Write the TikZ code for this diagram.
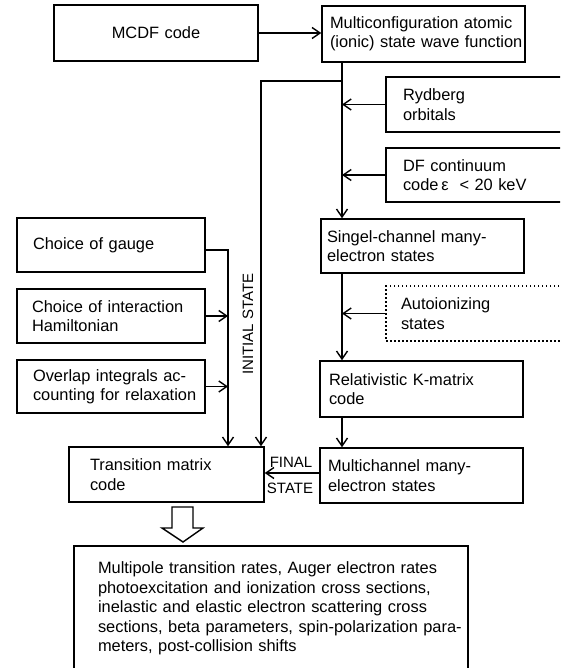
\documentclass[tikz,border=0pt]{standalone}
\usepackage{fontspec}
\setmainfont{Liberation Sans}
\usetikzlibrary{arrows.meta}
\begin{document}
\begin{tikzpicture}[x=1pt,y=-1pt,
  every node/.style={font=\fontsize{16.4}{19.4}\selectfont},
  box/.style={draw, line width=1.5pt, inner sep=0pt, align=left},
  lbl/.style={font=\fontsize{15}{17}\selectfont, inner sep=0pt},
  conn/.style={line width=1.4pt},
  arr/.style={conn, -{Straight Barb[length=8pt,width=11pt]}},
]
\useasboundingbox (0,0) rectangle (560,668);
\clip (0,0) rectangle (560,668);

% boxes
\node[box, align=center, minimum width=204pt, minimum height=56pt, text width=180pt] (mcdf) at (156,33) {MCDF code};
\node[box, minimum width=203pt, minimum height=56pt, text width=187pt] (multi) at (423.5,34)
  {\mbox{Multiconfiguration atomic}\\\mbox{(ionic) state wave function}};
\node[box, minimum width=189pt, minimum height=55pt, text width=155pt] (ryd) at (480.5,104.5)
  {\mbox{Rydberg}\\\mbox{orbitals}};
\node[box, minimum width=189pt, minimum height=54pt, text width=155pt] (df) at (480.5,175)
  {\mbox{DF continuum}\\\mbox{code\,ε \ < 20 keV}};
\node[box, minimum width=203pt, minimum height=54pt, text width=191pt] (singel) at (422.5,246)
  {\mbox{Singel-channel many-}\\\mbox{electron states}};
\node[box, dash pattern=on 1.5pt off 2.5pt, minimum width=189pt, minimum height=55pt, text width=159pt] (auto) at (480.5,313.5)
  {\mbox{Autoionizing}\\\mbox{states}};
\node[box, minimum width=203pt, minimum height=56pt, text width=185pt] (rel) at (421.5,389)
  {\mbox{Relativistic K-matrix}\\\mbox{code}};
\node[box, minimum width=203pt, minimum height=55pt, text width=187pt] (mc) at (421.5,475.5)
  {\mbox{Multichannel many-}\\\mbox{electron states}};
\node[box, minimum width=195pt, minimum height=55pt, text width=153pt] (trans) at (166.5,474.5)
  {\mbox{Transition matrix}\\\mbox{code}};
\node[box, minimum width=188pt, minimum height=54pt, text width=156pt] (gauge) at (111,245)
  {\mbox{Choice of gauge}};
\node[box, minimum width=188pt, minimum height=54pt, text width=158pt] (inter) at (111,316)
  {\mbox{Choice of interaction}\\\mbox{Hamiltonian}};
\node[box, minimum width=188pt, minimum height=53pt, text width=156pt] (over) at (111,386.5)
  {\mbox{Overlap integrals ac-}\\\mbox{counting for relaxation}};
\node[box, minimum width=394pt, minimum height=125pt, text width=346pt] (res) at (271,608.5)
  {\mbox{Multipole transition rates, Auger electron rates}\\
   \mbox{photoexcitation and ionization cross sections,}\\
   \mbox{inelastic and elastic electron scattering cross}\\
   \mbox{sections, beta parameters, spin-polarization para-}\\
   \mbox{meters, post-collision shifts}};

% labels
\node[lbl] (fin) at (291,462) {FINAL};
\node[lbl] (sta) at (290,488) {STATE};
\node[lbl, rotate=90] (ini) at (248,324) {INITIAL STATE};

% helper coordinates
\coordinate (vx) at (342,0);
\coordinate (ix) at (261,0);
\coordinate (gx) at (228,0);
\coordinate (j1) at (342,81);

% connectors
\draw[arr] (mcdf.east) -- (mcdf.east -| multi.west);
\draw[arr] (multi.south -| vx) -- (singel.north -| vx);
\draw[arr] (ryd.west) -- (ryd.west -| vx);
\draw[arr] (df.west) -- (df.west -| vx);
\draw[arr] (singel.south -| vx) -- (rel.north -| vx);
\draw[arr] (auto.west) -- (auto.west -| vx);
\draw[arr] (rel.south -| vx) -- (mc.north -| vx);
\draw[arr] ([yshift=2.5pt]mc.west) -- ([yshift=2.5pt]mc.west -| trans.east);
\draw[arr] (j1) -| (trans.north -| ix);
\draw[arr] ([yshift=-5pt]gauge.east) -| (trans.north -| gx);
\draw[arr] (inter.east) -- (inter.east -| gx);
\draw[arr] (over.east) -- (over.east -| gx);

% hollow arrow
\draw[conn, line join=miter] (172,507) -- (193,507) -- (193,528) -- (203,528) -- (183,542) -- (162,528) -- (172,528) -- cycle;
\end{tikzpicture}
\end{document}
